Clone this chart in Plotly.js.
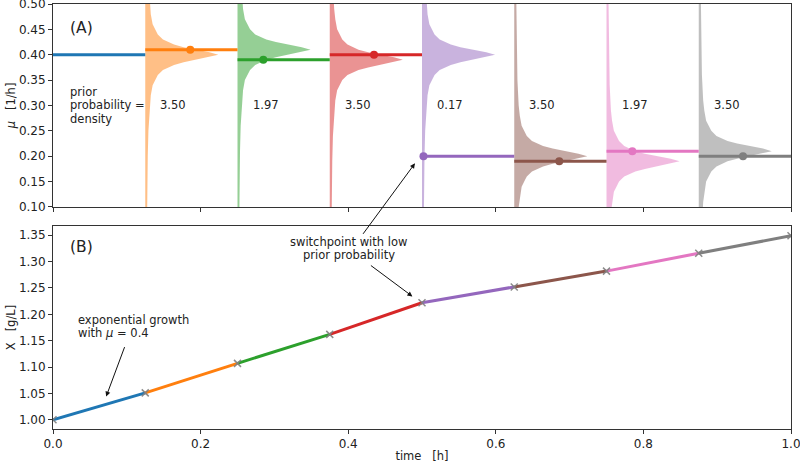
<!DOCTYPE html>
<html>
<head>
<meta charset="utf-8">
<script src="https://cdn.plot.ly/plotly-3.0.1.min.js"></script>
<style>
  body { margin: 0; background: #fff; }
  #chart { width: 800px; height: 463px; }
</style>
</head>
<body>
<div id="chart"></div>
<script>
// Segmente (Zeitintervalle) und Wachstumsraten
const segStart = [0, 0.125, 0.25, 0.375, 0.5, 0.625, 0.75, 0.875];
const segEnd = [0.125, 0.25, 0.375, 0.5, 0.625, 0.75, 0.875, 1.0];
const muValues = [0.40, 0.41, 0.39, 0.40, 0.20, 0.19, 0.21, 0.20];
const dotTimes = [null, 0.186, 0.285, 0.435, 0.502, 0.686, 0.785, 0.935];
const densityLabels = ['3.50', '1.97', '3.50', '0.17', '3.50', '1.97', '3.50'];
const segColors = ['#1f77b4', '#ff7f0e', '#2ca02c', '#d62728', '#9467bd', '#8c564b', '#e377c2', '#7f7f7f'];
const fillColors = ['rgba(31,119,180,0.5)', 'rgba(255,127,14,0.5)', 'rgba(44,160,44,0.5)', 'rgba(214,39,40,0.5)',
                    'rgba(148,103,189,0.5)', 'rgba(140,86,75,0.5)', 'rgba(227,119,194,0.5)', 'rgba(127,127,127,0.5)'];

// Form der Prior-Dichte: Abstand vom Zentrum -> Breite in Zeiteinheiten
const profileOffset = [0, 0.005, 0.01, 0.015, 0.02, 0.03, 0.04, 0.05, 0.06, 0.08, 0.1, 0.15, 0.2, 0.3, 0.4];
const profileWidth = [0.099, 0.087, 0.068, 0.052, 0.039, 0.024, 0.017, 0.0135, 0.010, 0.0075, 0.006, 0.0043, 0.0034, 0.0024, 0.0019];

// Biomasse an den Knoten
const nodeTimes = [0, 0.125, 0.25, 0.375, 0.5, 0.625, 0.75, 0.875, 1.0];
const biomass = [1.000, 1.051, 1.107, 1.162, 1.222, 1.252, 1.282, 1.316, 1.349];

const textFont = { family: 'DejaVu Sans, sans-serif', size: 11.5, color: '#222' };
const tickFont = { family: 'DejaVu Sans, sans-serif', size: 12, color: '#222' };
const traces = [];

// Dichteflächen an jedem Umschaltpunkt (Zentrum = vorheriger Wert)
for (let k = 1; k < segStart.length; k++) {
    const base = segStart[k];
    const center = muValues[k - 1];
    const xs = [], ys = [];
    for (let i = profileOffset.length - 1; i > 0; i--) {
        xs.push(base + profileWidth[i]); ys.push(center - profileOffset[i]);
    }
    for (let i = 0; i < profileOffset.length; i++) {
        xs.push(base + profileWidth[i]); ys.push(center + profileOffset[i]);
    }
    xs.push(base, base);
    ys.push(center + profileOffset[profileOffset.length - 1], center - profileOffset[profileOffset.length - 1]);
    traces.push({
        x: xs, y: ys, xaxis: 'x', yaxis: 'y',
        mode: 'lines', fill: 'toself', fillcolor: fillColors[k],
        line: { width: 0 }, hoverinfo: 'skip', showlegend: false
    });
}

// horizontale mu-Segmente
for (let k = 0; k < segStart.length; k++) {
    traces.push({
        x: [segStart[k], segEnd[k]], y: [muValues[k], muValues[k]], xaxis: 'x', yaxis: 'y',
        mode: 'lines', line: { color: segColors[k], width: 3 }, showlegend: false
    });
    if (dotTimes[k] !== null) {
        traces.push({
            x: [dotTimes[k]], y: [muValues[k]], xaxis: 'x', yaxis: 'y',
            mode: 'markers', marker: { color: segColors[k], size: 8 }, showlegend: false
        });
    }
}

// Biomasse-Segmente
for (let k = 0; k < segStart.length; k++) {
    traces.push({
        x: [nodeTimes[k], nodeTimes[k + 1]], y: [biomass[k], biomass[k + 1]], xaxis: 'x2', yaxis: 'y2',
        mode: 'lines', line: { color: segColors[k], width: 3 }, showlegend: false
    });
}
traces.push({
    x: nodeTimes, y: biomass, xaxis: 'x2', yaxis: 'y2', mode: 'markers',
    marker: { symbol: 'x-thin-open', size: 7, color: 'rgba(127,127,127,0.9)', line: { width: 1.5, color: 'rgba(127,127,127,0.9)' } },
    showlegend: false
});

// Beschriftungen
const annotations = [
    { x: 0.02, y: 0.453, xref: 'x', yref: 'y', text: '(A)', showarrow: false, xanchor: 'left',
      font: Object.assign({}, textFont, { size: 15.5 }) },
    { x: 0.02, y: 1.327, xref: 'x2', yref: 'y2', text: '(B)', showarrow: false, xanchor: 'left',
      font: Object.assign({}, textFont, { size: 15.5 }) },
    { x: 0.0203, y: 0.3266, xref: 'x', yref: 'y', text: 'prior', showarrow: false, xanchor: 'left', font: textFont },
    { x: 0.0203, y: 0.3000, xref: 'x', yref: 'y', text: 'probability =', showarrow: false, xanchor: 'left', font: textFont },
    { x: 0.0203, y: 0.2734, xref: 'x', yref: 'y', text: 'density', showarrow: false, xanchor: 'left', font: textFont },
    { x: 0.031, y: 1.1893, xref: 'x2', yref: 'y2', text: 'exponential growth', showarrow: false, xanchor: 'left', font: textFont },
    { x: 0.031, y: 1.1639, xref: 'x2', yref: 'y2', text: 'with <i>μ</i> = 0.4', showarrow: false, xanchor: 'left', font: textFont },
    { x: 0.401, y: 1.3366, xref: 'x2', yref: 'y2', text: 'switchpoint with low', showarrow: false, font: textFont },
    { x: 0.401, y: 1.3117, xref: 'x2', yref: 'y2', text: 'prior probability', showarrow: false, font: textFont },
    // Pfeile
    { x: 0.072, y: 1.044, xref: 'x2', yref: 'y2', text: '', showarrow: true, ax: 19, ay: -51,
      arrowhead: 2, arrowsize: 1, arrowwidth: 1, arrowcolor: '#111' },
    { x: 0.4905, y: 0.186, xref: 'x', yref: 'y', text: '', showarrow: true, ax: -53, ay: 72,
      arrowhead: 2, arrowsize: 1, arrowwidth: 1, arrowcolor: '#111' },
    { x: 0.487, y: 1.234, xref: 'x2', yref: 'y2', text: '', showarrow: true, ax: -43, ay: -32,
      arrowhead: 2, arrowsize: 1, arrowwidth: 1, arrowcolor: '#111' }
];
for (let k = 1; k < segStart.length; k++) {
    annotations.push({
        x: segStart[k] + 0.038, y: 0.30, xref: 'x', yref: 'y', text: densityLabels[k - 1],
        showarrow: false, font: textFont
    });
}

const axisBase = {
    showgrid: false, zeroline: false, showline: true, mirror: true,
    linecolor: '#333', linewidth: 1, ticks: 'outside', ticklen: 4, tickwidth: 1, tickcolor: '#333',
    tickfont: tickFont, ticklabeloverflow: 'allow'
};

const layout = {
    width: 800, height: 463,
    margin: { l: 53, r: 9, t: 4, b: 34 },
    paper_bgcolor: '#fff', plot_bgcolor: '#fff',
    font: textFont,
    showlegend: false,
    xaxis: Object.assign({}, axisBase, {
        domain: [0, 1], range: [0, 1], anchor: 'y', showticklabels: false,
        tickvals: [0, 0.2, 0.4, 0.6, 0.8, 1.0]
    }),
    yaxis: Object.assign({}, axisBase, {
        domain: [0.5224, 1], range: [0.1, 0.5], anchor: 'x',
        tickvals: [0.10, 0.15, 0.20, 0.25, 0.30, 0.35, 0.40, 0.45, 0.50], tickformat: '.2f',
        title: { text: '<i>μ</i>\u00a0\u00a0\u00a0[1/h]', font: textFont, standoff: 0 }
    }),
    xaxis2: Object.assign({}, axisBase, {
        domain: [0, 1], range: [0, 1], anchor: 'y2',
        tickvals: [0, 0.2, 0.4, 0.6, 0.8, 1.0], tickformat: '.1f',
        title: { text: 'time\u00a0\u00a0\u00a0[h]', font: textFont, standoff: 5 }
    }),
    yaxis2: Object.assign({}, axisBase, {
        domain: [0, 0.4776], range: [0.9825, 1.3675], anchor: 'x2',
        tickvals: [1.00, 1.05, 1.10, 1.15, 1.20, 1.25, 1.30, 1.35], tickformat: '.2f',
        title: { text: 'X\u00a0\u00a0\u00a0[g/L]', font: textFont, standoff: 0 }
    }),
    annotations: annotations
};

Plotly.newPlot('chart', traces, layout, { displayModeBar: false, staticPlot: true });
</script>
</body>
</html>
